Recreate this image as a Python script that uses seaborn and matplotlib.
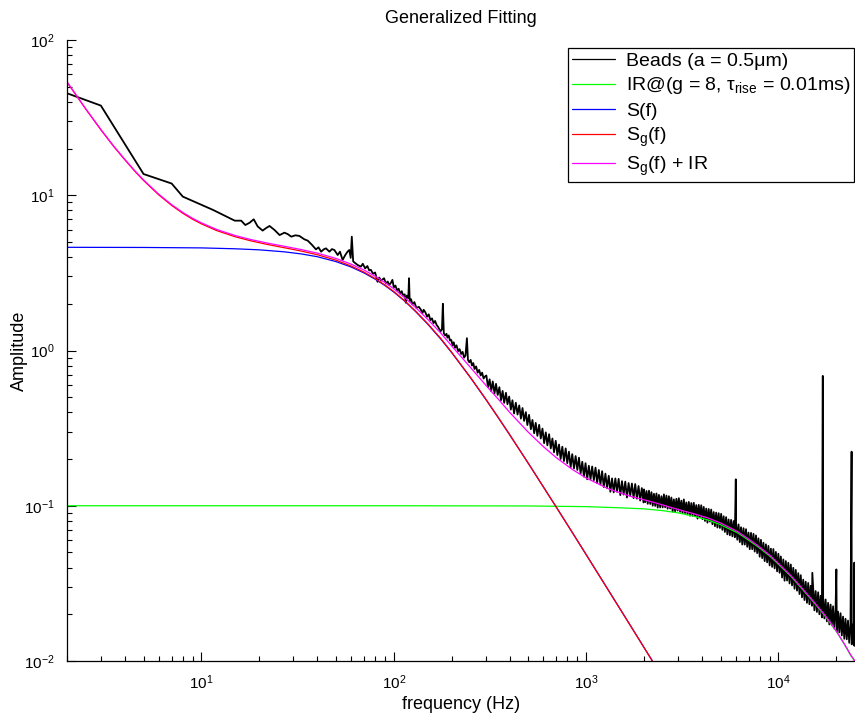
import numpy as np
import pandas as pd
import matplotlib
matplotlib.use("Agg")
import matplotlib.pyplot as plt
import seaborn as sns
from matplotlib.ticker import LogLocator, NullFormatter

# ---------------------------------------------------------------------------
# Measured bead spectrum (amplitude vs frequency)
# ---------------------------------------------------------------------------
beads_freq_low = [2.0, 3.0, 5.0, 7.0, 8.0, 11.5, 14.9, 16.1, 16.9, 17.8,
                  18.7, 19.6, 20.8, 21.7, 22.6, 24.0, 25.5, 27.0, 28.1, 29.3,
                  30.8, 32.3, 34.3, 35.7, 37.5, 39.4, 40.6, 41.9, 43.2, 44.4,
                  46.3, 47.7, 49.1, 51.1, 52.5, 54.2, 55.8, 57.5, 58.7, 59.7,
                  60.5, 61.5]
beads_amp_low = [45.4, 37.8, 13.7, 11.9, 9.8, 8.04, 6.86, 6.86, 6.43, 6.65,
                 7.0, 6.3, 5.92, 6.15, 6.34, 5.97, 5.54, 5.74, 5.62, 5.41,
                 5.52, 5.47, 5.2, 5.1, 4.8, 4.48, 4.62, 4.33, 4.48, 4.55,
                 4.33, 4.5, 4.44, 4.12, 4.33, 3.83, 4.1, 4.33, 4.44, 3.95,
                 5.41, 3.75]

beads_freq_a = [63.1, 65.0, 67.5, 69.0, 71.0, 72.9, 74.5, 76.0, 78.0, 80.0,
                82.3, 84.0, 86.0, 89.0, 91.0, 93.0, 94.6, 96.5, 98.4, 100.0,
                102.0, 104.0, 106.0, 108.0, 110.0, 112.0, 114.0, 115.5, 117.0, 119.0,
                120.0, 121.0, 123.0]
beads_amp_a = [3.65, 3.55, 3.47, 3.62, 3.38, 3.50, 3.28, 3.31, 3.12, 3.18,
               2.77, 2.95, 2.82, 2.92, 2.70, 2.78, 2.64, 2.72, 2.85, 2.55,
               2.62, 2.44, 2.50, 2.32, 2.41, 2.25, 2.30, 2.03, 2.26, 2.18,
               2.92, 2.08, 2.14]

beads_freq_b = [125, 128, 131, 135, 138, 141, 143, 146, 149, 152,
                155, 158, 161, 164, 167, 170, 172, 175, 178, 180,
                182, 185, 188, 190, 193, 196, 199, 202, 205, 208,
                212, 216, 220, 224, 228, 232, 236, 240, 243, 247,
                251, 255, 259, 263, 268, 273, 278, 283, 288, 293,
                298]
beads_amp_b = [1.98, 2.05, 1.88, 1.91, 1.84, 1.74, 1.83, 1.76, 1.65, 1.71,
               1.57, 1.61, 1.50, 1.55, 1.46, 1.42, 1.38, 1.33, 1.37, 2.00,
               1.29, 1.25, 1.28, 1.21, 1.25, 1.16, 1.17, 1.08, 1.13, 1.04,
               1.08, 0.99, 1.02, 0.95, 0.98, 0.90, 0.93, 1.20, 0.87, 0.84,
               0.87, 0.80, 0.83, 0.76, 0.79, 0.72, 0.75, 0.69, 0.72, 0.66,
               0.68]

beads_freq_c = [303, 309, 315, 321, 327, 334, 340, 347, 354, 361,
                368, 375, 383, 390, 398, 406, 414, 422, 431, 440,
                449, 458, 467, 476, 486, 495, 505, 516, 526, 537,
                547, 558, 570, 581, 593, 605, 617, 629, 642, 655,
                668, 681, 695, 709, 723, 737, 752, 767, 783, 798,
                814, 831, 847]
beads_amp_c = [0.690, 0.580, 0.652, 0.546, 0.632, 0.530, 0.610, 0.517, 0.580, 0.478,
               0.549, 0.460, 0.534, 0.451, 0.505, 0.416, 0.478, 0.393, 0.461, 0.387,
               0.443, 0.364, 0.426, 0.352, 0.401, 0.331, 0.385, 0.311, 0.357, 0.293,
               0.342, 0.282, 0.332, 0.271, 0.314, 0.253, 0.297, 0.245, 0.289, 0.234,
               0.271, 0.221, 0.262, 0.212, 0.248, 0.200, 0.240, 0.194, 0.234, 0.188,
               0.223, 0.177, 0.215]

beads_freq_d = [865, 882, 900, 918, 936, 955, 974, 993, 1013, 1033,
                1054, 1075, 1097, 1119, 1141, 1164, 1187, 1211, 1235, 1260,
                1285, 1311, 1337, 1364, 1391, 1419, 1447, 1476, 1506, 1536,
                1567, 1598, 1630, 1663, 1696, 1730, 1765, 1800, 1836, 1873,
                1910, 1948, 1987]
beads_amp_d = [0.174, 0.209, 0.170, 0.204, 0.161, 0.192, 0.154, 0.188, 0.148, 0.181,
               0.148, 0.179, 0.146, 0.176, 0.140, 0.170, 0.137, 0.167, 0.132, 0.161,
               0.130, 0.156, 0.123, 0.150, 0.122, 0.150, 0.123, 0.149, 0.117, 0.144,
               0.118, 0.143, 0.113, 0.140, 0.116, 0.139, 0.112, 0.138, 0.111, 0.134,
               0.108, 0.130, 0.105]

beads_freq_e = [2000, 2030, 2061, 2091, 2123, 2155, 2187, 2220, 2253, 2287,
                2321, 2356, 2391, 2427, 2464, 2501, 2538, 2576, 2615, 2654,
                2694, 2734, 2775, 2817, 2859, 2902, 2946, 2990, 3035, 3080,
                3126, 3173, 3221, 3269, 3318, 3368, 3419, 3470, 3522, 3575,
                3628, 3683, 3738, 3794, 3851, 3909, 3967, 4027, 4087, 4149,
                4211, 4274, 4338, 4403, 4469, 4536, 4605, 4674, 4744, 4815,
                4887, 4960, 5035, 5110, 5187, 5265, 5344, 5424, 5505, 5588,
                5672, 5757, 5843, 5931, 6000, 6020, 6110, 6202, 6295, 6389, 6485,
                6582, 6681, 6781, 6883, 6986, 7091, 7197, 7305, 7415, 7526,
                7639, 7754, 7870, 7988, 8108, 8230, 8353, 8478, 8606, 8735,
                8866, 8999, 9134, 9271, 9410, 9551, 9694, 9840, 9987, 10137,
                10289, 10444, 10600, 10759, 10921, 11085, 11251, 11420, 11591, 11765,
                11941, 12120, 12302, 12487, 12674, 12864, 13057, 13253, 13452, 13653,
                13858, 14066, 14277, 14491, 14709, 14929, 15000, 15153, 15380, 15611,
                15845, 16083,
                16324, 16569, 16818, 17000, 17070, 17326, 17586, 17850, 18118, 18389,
                18665,
                18945, 19229, 19518, 19811, 20000, 20108, 20410, 20716, 21026, 21342,
                21662,
                21987, 22317, 22651, 22991, 23336, 23686, 24000, 24041, 24402, 24700,
                24800, 24900, 25000]
beads_amp_e = [0.1274, 0.1055, 0.1245, 0.1029, 0.1251, 0.1026, 0.1223, 0.1000, 0.1194, 0.0997,
               0.1200, 0.0973, 0.1175, 0.0975, 0.1152, 0.0976, 0.1184, 0.0977, 0.1163, 0.0957,
               0.1152, 0.0959, 0.1130, 0.0918, 0.1099, 0.0920, 0.1109, 0.0931, 0.1119, 0.0913,
               0.1079, 0.0895, 0.1099, 0.0896, 0.1050, 0.0879, 0.1059, 0.0862, 0.1041, 0.0861,
               0.1045, 0.0857, 0.1010, 0.0826, 0.1013, 0.0841, 0.1007, 0.0819, 0.0983, 0.0798,
               0.0959, 0.0778, 0.0954, 0.0790, 0.0945, 0.0760, 0.0911, 0.0738, 0.0903, 0.0724,
               0.0896, 0.0719, 0.0887, 0.0699, 0.0856, 0.0678, 0.0845, 0.0654, 0.0816, 0.0645,
               0.0811, 0.0635, 0.0797, 0.0627, 0.148, 0.0771, 0.0604, 0.0758, 0.0583, 0.0727, 0.0563,
               0.0717, 0.0562, 0.0706, 0.0544, 0.0672, 0.0525, 0.0669, 0.0525, 0.0659, 0.0507,
               0.0644, 0.0495, 0.0617, 0.0470, 0.0603, 0.0460, 0.0578, 0.0440, 0.0564, 0.0432,
               0.0551, 0.0413, 0.0529, 0.0404, 0.0526, 0.0395, 0.0504, 0.0378, 0.0491, 0.0370,
               0.0471, 0.0345, 0.0451, 0.0329, 0.0440, 0.0330, 0.0429, 0.0316, 0.0418, 0.0307,
               0.0398, 0.0292, 0.0386, 0.0284, 0.0368, 0.0270, 0.0357, 0.0257, 0.0334, 0.0247,
               0.0324, 0.0237, 0.0318, 0.0232, 0.0305, 0.0227, 0.037, 0.0294, 0.0212, 0.0282,
               0.0207, 0.0277,
               0.0200, 0.0263, 0.0191, 0.686, 0.0256, 0.0188, 0.0249, 0.0180, 0.0237, 0.0172,
               0.0231,
               0.0170, 0.0225, 0.0162, 0.0214, 0.0389, 0.0155, 0.0208, 0.0153, 0.0203, 0.0146,
               0.0193,
               0.0139, 0.0187, 0.0138, 0.0182, 0.0131, 0.0172, 0.223, 0.0128, 0.0172, 0.0126,
               0.043, 0.0168, 0.0125]

# ---------------------------------------------------------------------------
# Fitted model curves
# ---------------------------------------------------------------------------
ir_freq = [2, 100, 500, 1000, 1500, 2000, 2500, 3000, 3500, 4300, 5000, 6150,
           7000, 7815, 9000, 10000, 11600, 13000, 15000, 17300, 20000, 22000,
           23800, 25000]
ir_amp = [0.1, 0.1, 0.0997, 0.0987, 0.097, 0.0955, 0.093, 0.090, 0.0865, 0.081,
          0.0755, 0.0668, 0.060, 0.0545, 0.0475, 0.042, 0.0352, 0.030, 0.0245,
          0.0198, 0.0155, 0.0128, 0.0108, 0.0099]

s_freq = [2, 5, 10, 15, 20, 27, 33, 40, 50, 60, 70, 80, 90, 100, 115, 130, 150,
          175, 200, 250, 300, 350, 400, 500, 600, 700, 850, 1000, 1300, 1700,
          2200, 2500]
s_amp = [4.62, 4.61, 4.58, 4.52, 4.45, 4.32, 4.19, 4.02, 3.74, 3.45, 3.16, 2.88,
         2.62, 2.38, 2.06, 1.78, 1.48, 1.19, 0.969, 0.670, 0.487, 0.368, 0.287,
         0.188, 0.132, 0.0979, 0.0669, 0.0485, 0.0288, 0.0169, 0.0101, 0.00783]

sg_freq = [2, 2.5, 3, 3.5, 4, 4.5, 5, 6, 7, 8, 9, 10, 12, 15, 18, 22, 27, 33, 40,
           50, 60, 70, 80, 90, 100, 115, 130, 150, 175, 200, 250, 300, 350, 400,
           500, 600, 700, 850, 1000, 1300, 1700, 2200, 2500]
sg_amp = [53.6, 36.0, 26.4, 20.6, 16.9, 14.3, 12.45, 10.05, 8.60, 7.65, 7.00,
          6.54, 5.92, 5.40, 5.09, 4.82, 4.59, 4.37, 4.14, 3.82, 3.50, 3.20, 2.91,
          2.64, 2.40, 2.07, 1.79, 1.49, 1.20, 0.974, 0.673, 0.489, 0.369, 0.288,
          0.188, 0.132, 0.0979, 0.0669, 0.0485, 0.0288, 0.0169, 0.0101, 0.00783]

sgir_freq = [2, 2.5, 3, 3.5, 4, 4.5, 5, 6, 7, 8, 9, 10, 12, 15, 18, 22, 27, 33,
             40, 50, 60, 70, 80, 90, 100, 115, 130, 150, 175, 200, 250, 300, 350,
             400, 500, 600, 700, 850, 1000, 1300, 1700, 2200, 3000, 3500, 4300,
             5000, 6150, 7000, 7815, 9000, 10000, 11600, 13000, 15000, 17300,
             20000, 22000, 23800, 25000]
sgir_amp = [53.7, 36.1, 26.5, 20.7, 17.0, 14.4, 12.55, 10.15, 8.70, 7.75, 7.10,
            6.64, 6.02, 5.50, 5.19, 4.92, 4.69, 4.47, 4.24, 3.92, 3.60, 3.30, 3.01,
            2.74, 2.50, 2.17, 1.89, 1.59, 1.30, 1.07, 0.78, 0.60, 0.485, 0.40,
            0.298, 0.240, 0.204, 0.171, 0.151, 0.129, 0.115, 0.106, 0.0947, 0.090,
            0.0834, 0.0774, 0.068, 0.061, 0.0553, 0.0481, 0.0425, 0.0355, 0.0303,
            0.0247, 0.0200, 0.0156, 0.0129, 0.0109, 0.0100]

beads_freq = (beads_freq_low + beads_freq_a + beads_freq_b + beads_freq_c
              + beads_freq_d + beads_freq_e)
beads_amp = (beads_amp_low + beads_amp_a + beads_amp_b + beads_amp_c
             + beads_amp_d + beads_amp_e)

labels = ["Beads (a = 0.5\u03bcm)",
          "IR@(g = 8, \u03c4$_\\mathrm{rise}$ = 0.01ms)",
          "S(f)",
          "S$_\\mathrm{g}$(f)",
          "S$_\\mathrm{g}$(f) + IR"]
colors = ["black", "#00ff00", "#0000ff", "#ff0000", "#ff00ff"]

# ---------------------------------------------------------------------------
# Styling
# ---------------------------------------------------------------------------
sns.set_theme(style="white")
plt.rcParams["font.family"] = ["Liberation Sans", "DejaVu Sans"]
plt.rcParams.update({
    "mathtext.fontset": "custom",
    "mathtext.rm": "Liberation Sans",
    "mathtext.it": "Liberation Sans:italic",
    "mathtext.bf": "Liberation Sans:bold",
    "axes.edgecolor": "black",
    "axes.linewidth": 0.9,
    "xtick.color": "black",
    "ytick.color": "black",
    "text.color": "black",
    "axes.labelcolor": "black",
})

fig = plt.figure(figsize=(8.55, 7.17), dpi=100)
ax = fig.add_axes([67 / 855, 56 / 717, 788 / 855, 621 / 717])
ax.set_xscale("log")
ax.set_yscale("log")

series = [
    (beads_freq, beads_amp, 1.3),
    (ir_freq, ir_amp, 0.9),
    (s_freq, s_amp, 0.9),
    (sg_freq, sg_amp, 0.9),
    (sgir_freq, sgir_amp, 0.9),
]
for (freq, amp, lw), label, color in zip(series, labels, colors):
    df = pd.DataFrame({"frequency": freq, "amplitude": amp})
    sns.lineplot(data=df, x="frequency", y="amplitude", ax=ax, color=color,
                 linewidth=lw, label=label, estimator=None, sort=False)

ax.set_xlim(2, 25000)
ax.set_ylim(0.01, 100)

for axis in (ax.xaxis, ax.yaxis):
    axis.set_major_locator(LogLocator(base=10, numticks=12))
    axis.set_minor_locator(LogLocator(base=10, subs=np.arange(2, 10), numticks=60))
    axis.set_minor_formatter(NullFormatter())

ax.tick_params(which="both", direction="in", top=False, right=False,
               bottom=True, left=True, labelsize=11)
ax.tick_params(axis="y", which="both", pad=9)
ax.tick_params(axis="x", which="both", pad=9)
ax.tick_params(which="major", length=6.5, width=0.8)
ax.tick_params(which="minor", length=3.5, width=0.8)
for side in ("top", "right"):
    ax.spines[side].set_visible(False)

ax.set_title("Generalized Fitting", fontsize=13, pad=12)
ax.set_xlabel("frequency (Hz)", fontsize=13, labelpad=3)
ax.set_ylabel("Amplitude", fontsize=13)
ax.yaxis.set_label_coords(-0.049, 0.5)

leg = ax.legend(loc="upper right", bbox_to_anchor=(854 / 855, 1 - 48 / 717),
                bbox_transform=fig.transFigure, borderaxespad=0, frameon=True,
                fancybox=False, framealpha=1, edgecolor="black", fontsize=14,
                handlelength=2.2, handletextpad=0.57, labelspacing=0.3,
                borderpad=0.2)
leg.get_frame().set_linewidth(0.9)
for handle in leg.get_lines():
    handle.set_linewidth(0.9)

fig.savefig("out.png", dpi=100)
